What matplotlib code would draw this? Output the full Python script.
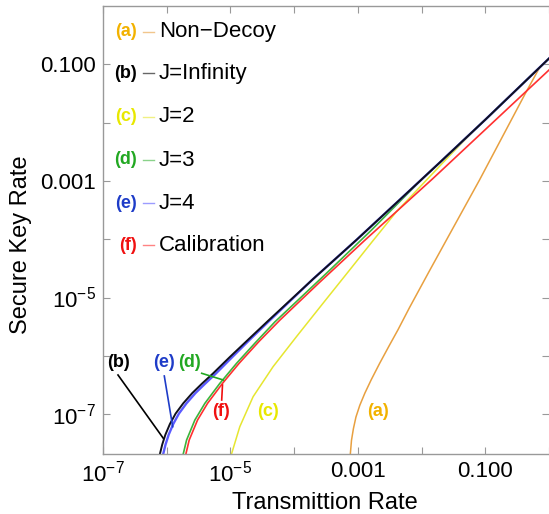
import numpy as np
import matplotlib
matplotlib.use("Agg")
from matplotlib import pyplot as plt
from matplotlib.lines import Line2D

plt.rcParams['font.family'] = ['Liberation Sans', 'DejaVu Sans']
plt.rcParams['mathtext.fontset'] = 'custom'
plt.rcParams['mathtext.rm'] = 'Liberation Sans'
plt.rcParams['mathtext.it'] = 'Liberation Sans:italic'

# curves, as log10(transmittance), log10(key rate)
a_lx = [-3.118, -3.100, -3.070, -3.030, -2.970, -2.890, -2.790, -2.658, -2.510, -2.372, -2.188, -1.880, -1.588, -1.091, -0.759, -0.370, -0.160]
a_ly = [-7.684, -7.450, -7.250, -7.050, -6.850, -6.640, -6.410, -6.129, -5.830, -5.557, -5.170, -4.550, -3.970, -2.985, -2.300, -1.497, -1.080]

b_lx = [-6.107, -6.070, -6.020, -5.950, -5.860, -5.741, -5.600, -5.450, -5.271, -5.009, -4.700, -4.409, -3.700, -3.024, -2.300, -1.700, -1.000, -0.025, 0.0]
b_ly = [-7.684, -7.520, -7.350, -7.170, -6.990, -6.815, -6.640, -6.480, -6.300, -6.020, -5.700, -5.400, -4.680, -4.014, -3.280, -2.670, -1.950, -0.926, -0.900]

c_lx = [-4.983, -4.853, -4.644, -4.331, -3.964, -3.547, -3.129, -2.788, -2.400, -2.100, -1.875, -1.550, -1.200, -0.900, -0.025, 0.0]
c_ly = [-7.684, -7.216, -6.701, -6.187, -5.672, -5.099, -4.528, -4.060, -3.535, -3.190, -2.930, -2.555, -2.160, -1.845, -0.926, -0.900]

d_lx = [-5.741, -5.688, -5.558, -5.401, -5.166, -4.904, -4.620, -4.304, -3.500, -2.788, -1.980, -1.000, -0.025, 0.0]
d_ly = [-7.684, -7.444, -7.101, -6.815, -6.472, -6.129, -5.788, -5.420, -4.592, -3.845, -2.955, -1.950, -0.926, -0.900]

e_lx = [-6.055, -6.018, -5.968, -5.898, -5.808, -5.690, -5.550, -5.400, -5.225, -4.970, -4.675, -4.390, -3.700, -3.024, -2.300, -1.700, -1.000, -0.025, 0.0]
e_ly = [-7.684, -7.520, -7.350, -7.170, -6.990, -6.815, -6.640, -6.480, -6.300, -6.020, -5.700, -5.400, -4.680, -4.014, -3.280, -2.670, -1.950, -0.926, -0.900]

f_lx = [-5.699, -5.647, -5.516, -5.359, -5.124, -4.864, -4.550, -4.226, -3.600, -2.893, -1.823, 0.0]
f_ly = [-7.684, -7.444, -7.101, -6.815, -6.472, -6.129, -5.752, -5.390, -4.739, -4.020, -2.960, -1.098]

tags = ["(a)", "(b)", "(c)", "(d)", "(e)", "(f)"]
names = ["Non\u2212Decoy", "J=Infinity", "J=2", "J=3", "J=4", "Calibration"]
tag_colors = ["#F2B200", "#000000", "#E8E800", "#22A822", "#1E3CC8", "#F01010"]
line_colors = ["#E8A040", "#000000", "#E6E630", "#3CB43C", "#5A5AFF", "#FF3030"]

x_ticks = [1e-7, 1e-6, 1e-5, 1e-4, 1e-3, 1e-2, 1e-1, 1]
x_labels = ["$10^{-7}$", "", "$10^{-5}$", "", "0.001", "", "0.100", ""]
y_ticks = [1e-7, 1e-6, 1e-5, 1e-4, 1e-3, 1e-2, 1e-1]
y_labels = ["$10^{-7}$", "", "$10^{-5}$", "", "0.001", "", "0.100"]

W, H = 549, 514


def fx(px):
    return px / W


def fy(py):
    return 1 - py / H


fig = plt.figure(figsize=(W / 100, H / 100), dpi=100)
ax = fig.add_axes([fx(103), fy(454), fx(549) - fx(103), fy(6) - fy(454)])

p = lambda v: np.power(10.0, v)
# lines underneath first, black on top
ax.plot(p(a_lx), p(a_ly), color=line_colors[0], lw=1.1)
ax.plot(p(c_lx), p(c_ly), color=line_colors[2], lw=1.1)
ax.plot(p(f_lx), p(f_ly), color=line_colors[5], lw=1.2)
ax.plot(p(d_lx), p(d_ly), color=line_colors[3], lw=1.2)
ax.plot(p(e_lx), p(e_ly), color=line_colors[4], lw=1.7)
ax.plot(p(b_lx), p(b_ly), color="#10101c", lw=1.4)

ax.set_xscale('log')
ax.set_yscale('log')
ax.set_xlim(1e-7, 1)
ax.set_ylim(p(-7.684), 1)

ax.set_xticks(x_ticks)
ax.set_xticklabels(x_labels)
ax.set_yticks(y_ticks)
ax.set_yticklabels(y_labels)
ax.xaxis.set_minor_locator(matplotlib.ticker.NullLocator())
ax.yaxis.set_minor_locator(matplotlib.ticker.NullLocator())
ax.tick_params(direction='in', length=5, width=0.8, color='#999999',
               labelsize=16, top=True, right=True, pad=5)
for s in ax.spines.values():
    s.set_color('#999999')
    s.set_linewidth(1.0)
ax.spines['right'].set_visible(False)

fig.text(fx(325), fy(503), "Transmittion Rate", fontsize=17, ha='center', va='center')
fig.text(fx(21), fy(245), "Secure Key Rate", fontsize=17, ha='center', va='center', rotation=90)

# legend (drawn by hand, Mathematica style)
rows = [31.7, 73.3, 116.7, 160, 203.3, 245]
for i in range(6):
    fig.text(fx(137), fy(rows[i]), tags[i], color=tag_colors[i], fontsize=13,
             fontweight='bold', ha='right', va='center')
    fig.add_artist(Line2D([fx(143), fx(154)], [fy(rows[i]), fy(rows[i])],
                          color=line_colors[i], lw=1.0, alpha=0.6))
    fig.text(fx(159), fy(rows[i]), names[i], fontsize=16, ha='left', va='center')

# curve callouts
fig.text(fx(118), fy(362.7), "(b)", color=tag_colors[1], fontsize=13, fontweight='bold', ha='center', va='center')
fig.add_artist(Line2D([fx(118), fx(163.3)], [fy(375), fy(438.3)], color="#000000", lw=1.2))
fig.text(fx(164.5), fy(362.7), "(e)", color=tag_colors[4], fontsize=13, fontweight='bold', ha='center', va='center')
fig.add_artist(Line2D([fx(164.3), fx(172.7)], [fy(376), fy(426.7)], color=tag_colors[4], lw=1.2))
fig.text(fx(189.5), fy(362.7), "(d)", color=tag_colors[3], fontsize=13, fontweight='bold', ha='center', va='center')
fig.add_artist(Line2D([fx(201.7), fx(223.3)], [fy(373.3), fy(380)], color=tag_colors[3], lw=1.2))
fig.text(fx(221), fy(411.7), "(f)", color=tag_colors[5], fontsize=13, fontweight='bold', ha='center', va='center')
fig.add_artist(Line2D([fx(221.7), fx(222.5)], [fy(400), fy(385)], color=tag_colors[5], lw=1.2))
fig.text(fx(268.3), fy(411.7), "(c)", color=tag_colors[2], fontsize=13, fontweight='bold', ha='center', va='center')
fig.text(fx(378.3), fy(411), "(a)", color=tag_colors[0], fontsize=13, fontweight='bold', ha='center', va='center')

fig.savefig("out.png", dpi=100)
